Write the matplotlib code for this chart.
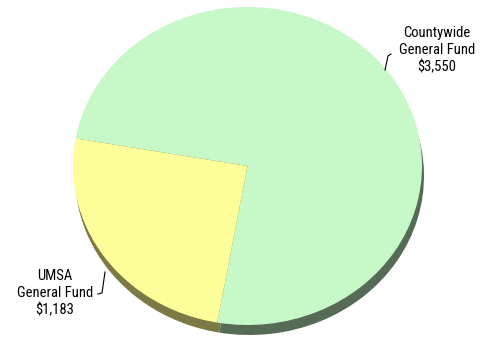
import matplotlib
matplotlib.use("Agg")
import matplotlib.pyplot as plt

categories = ["Countywide\nGeneral Fund", "UMSA\nGeneral Fund"]
values = [3550, 1183]
value_labels = ["$3,550", "$1,183"]
top_colors = ["#c6f8c8", "#fdfd9a"]
side_colors = ["#566b55", "#7b7a45"]

W, H = 485, 341
fig = plt.figure(figsize=(W / 100, H / 100), dpi=100)
fig.patch.set_facecolor("white")

# pie axes: ellipse spanning x 73..422, y 7..325 (pixels from top)
x0, x1, y0, y1 = 73, 422, 7, 325
pax = fig.add_axes([x0 / W, 1 - y1 / H, (x1 - x0) / W, (y1 - y0) / H])
pax.axis("off")
dx, dy = 2.0 / ((x1 - x0) / 2), -10.0 / ((y1 - y0) / 2)
# side wall / shadow
pax.pie(values, colors=side_colors, startangle=-100, counterclock=True,
        center=(dx, dy), radius=1.0, wedgeprops=dict(linewidth=0, clip_on=False))
# top face
pax.pie(values, colors=top_colors, startangle=-100, counterclock=True,
        center=(0, 0), radius=1.0, wedgeprops=dict(linewidth=0, clip_on=False))
pax.set_aspect("auto")
pax.set_xlim(-1, 1)
pax.set_ylim(-1, 1)

# overlay axes in pixel coordinates for labels
tax = fig.add_axes([0, 0, 1, 1])
tax.set_xlim(0, W)
tax.set_ylim(H, 0)
tax.axis("off")
font = ["Liberation Sans Narrow", "Roboto Condensed", "DejaVu Sans"]
tax.text(437, 50, categories[0] + "\n" + value_labels[0], ha="center", va="center",
         fontsize=10.5, family=font, linespacing=1.25, color="black")
tax.text(55, 293, categories[1] + "\n" + value_labels[1], ha="center", va="center",
         fontsize=10.5, family=font, linespacing=1.25, color="black")
tax.plot([385, 388, 391], [70, 56, 54], color="black", lw=0.8)
tax.plot([105, 102, 98], [272, 293, 294], color="black", lw=0.8)

fig.savefig("out.png", dpi=100, facecolor="white")
